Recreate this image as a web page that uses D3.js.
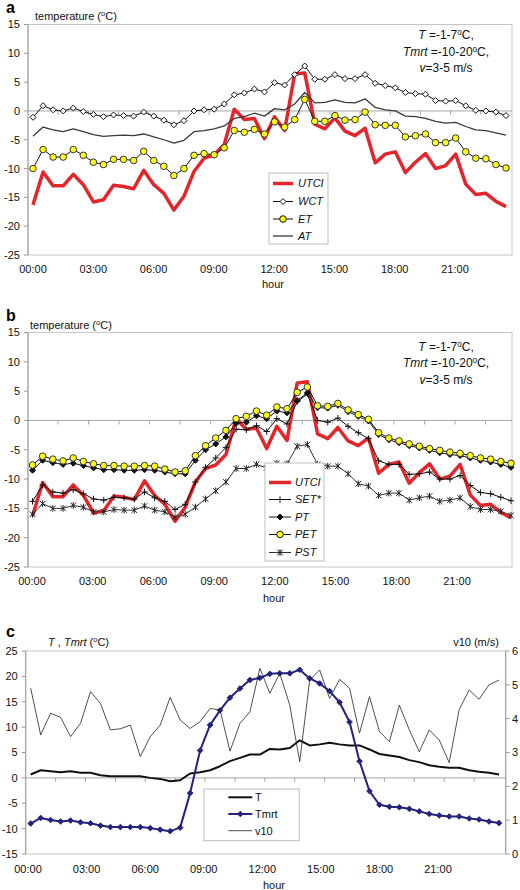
<!DOCTYPE html>
<html><head><meta charset="utf-8">
<script src="https://cdn.jsdelivr.net/npm/d3@7"></script>
<style>body{margin:0;background:#fff;} svg{display:block;font-family:"Liberation Sans",Arial,Helvetica,sans-serif;}</style>
</head><body><svg id="chart" width="520" height="890"></svg>
<script>
// ---------- DATA ----------
const times = ["00:00","00:30","01:00","01:30","02:00","02:30","03:00","03:30","04:00","04:30","05:00","05:30",
"06:00","06:30","07:00","07:30","08:00","08:30","09:00","09:30","10:00","10:30","11:00","11:30",
"12:00","12:30","13:00","13:30","14:00","14:30","15:00","15:30","16:00","16:30","17:00","17:30",
"18:00","18:30","19:00","19:30","20:00","20:30","21:00","21:30","22:00","22:30","23:00","23:30"];
const tickLabels = ["00:00","03:00","06:00","09:00","12:00","15:00","18:00","21:00"];
const tickHours = [0,3,6,9,12,15,18,21];
const yTicksAB = [15,10,5,0,-5,-10,-15,-20,-25];
const yTicksC = [25,20,15,10,5,0,-5,-10,-15];
const yTicksCR = [0,1,2,3,4,5,6];

const utci = [-16.3,-10.6,-13.0,-13.0,-11.0,-12.8,-15.8,-15.4,-12.9,-13.1,-13.5,-10.3,-12.8,-14.3,-17.2,-14.8,-10.5,-8.2,-7.6,-5.8,0.3,-1.5,-1.3,-4.8,-1.0,-3.4,6.4,6.6,-2.3,-3.1,-1.2,-3.5,-4.3,-3.0,-9.0,-7.5,-7.1,-10.7,-8.9,-7.4,-10.0,-9.5,-7.5,-12.7,-14.5,-14.3,-15.7,-16.6];
const wct = [-1.1,0.9,0.2,0.0,0.5,-0.1,-0.6,-1.0,-0.7,-0.8,-0.9,-0.2,-0.9,-1.6,-2.4,-1.7,0.0,0.2,0.3,1.2,2.8,3.1,3.8,3.3,4.9,4.5,6.3,7.8,5.5,5.5,6.3,5.6,5.6,6.3,4.8,4.4,4.0,3.2,3.0,2.9,1.8,1.7,1.8,0.9,0.1,0.0,-0.2,-0.8];
const et = [-10.0,-6.7,-8.0,-8.0,-6.7,-7.7,-8.9,-9.3,-8.4,-8.4,-8.6,-7.0,-8.6,-9.6,-11.2,-10.0,-7.7,-7.4,-7.6,-6.4,-3.4,-3.7,-3.2,-4.0,-1.9,-2.8,-1.5,2.0,-1.8,-1.8,-0.8,-1.6,-1.5,-0.2,-2.4,-2.5,-2.5,-4.5,-4.3,-4.0,-5.5,-5.5,-4.7,-7.1,-8.2,-8.3,-9.3,-9.9];
const at = [-4.4,-2.8,-3.3,-3.6,-3.1,-3.6,-4.1,-4.4,-4.3,-4.2,-4.3,-4.0,-4.5,-5.0,-5.6,-5.1,-3.6,-3.4,-3.1,-2.6,-1.3,-1.0,-0.4,-0.9,0.4,0.2,1.2,3.2,1.4,1.5,1.9,1.5,1.4,2.1,0.6,0.2,0.0,-0.9,-1.0,-1.3,-1.8,-2.1,-2.0,-2.7,-3.3,-3.4,-3.8,-4.2];

const setStar = [-13.8,-11.0,-12.2,-12.4,-11.8,-12.5,-13.4,-13.6,-13.1,-13.2,-13.4,-12.2,-13.2,-13.8,-15.2,-14.3,-10.5,-8.0,-6.4,-4.6,-1.5,-1.6,-0.9,-1.9,0.3,-0.6,3.2,4.5,0.0,-0.3,0.4,-1.0,-2.1,-3.1,-6.9,-7.5,-7.5,-9.2,-9.1,-8.8,-10.0,-10.0,-9.4,-11.1,-12.3,-12.5,-13.1,-13.7];
const pt = [-8.5,-6.8,-7.2,-7.5,-7.3,-7.7,-8.1,-8.4,-8.4,-8.5,-8.5,-8.4,-8.5,-8.8,-9.1,-9.1,-6.8,-5.0,-4.0,-2.8,-0.5,-0.3,0.8,0.3,1.6,1.3,3.4,4.7,2.2,2.1,2.6,1.5,0.7,-0.1,-2.4,-3.3,-3.8,-4.3,-4.7,-5.1,-5.5,-5.8,-6.0,-6.4,-6.8,-7.1,-7.5,-8.0];
const pet = [-7.6,-6.1,-6.6,-6.9,-6.4,-7.0,-7.4,-7.7,-7.7,-7.8,-7.8,-7.7,-7.8,-8.3,-8.8,-8.6,-6.0,-4.3,-3.0,-1.7,0.3,0.7,1.6,0.9,2.3,2.0,4.8,5.7,2.5,2.4,2.9,1.8,1.0,0.2,-2.1,-3.0,-3.5,-4.0,-4.4,-4.8,-5.1,-5.4,-5.6,-6.0,-6.4,-6.6,-7.0,-7.3];
const pst = [-16.0,-14.2,-15.0,-15.0,-14.5,-14.8,-15.6,-15.6,-15.2,-15.3,-15.3,-14.6,-15.3,-15.6,-16.5,-16.0,-14.8,-13.4,-12.0,-10.5,-8.2,-8.2,-7.5,-8.1,-7.3,-7.4,-4.4,-4.1,-7.5,-7.8,-7.8,-9.1,-10.8,-11.2,-12.8,-12.4,-12.4,-13.6,-13.2,-12.9,-13.8,-13.6,-13.2,-14.7,-15.2,-15.2,-15.5,-16.2];

const tAir = [0.66,1.5,1.3,1.1,1.3,1.0,1.0,0.5,0.3,0.3,0.3,0.3,0.0,-0.2,-0.66,-0.46,0.86,1.1,1.5,2.3,3.3,3.95,4.6,4.6,5.7,5.6,5.9,7.4,6.4,6.6,6.9,6.6,6.4,6.4,5.6,4.7,4.4,4.1,3.5,3.1,2.5,2.2,2.0,2.0,1.5,1.2,1.0,0.66];
const tmrt = [-9.0,-7.9,-8.3,-8.6,-8.4,-8.75,-8.95,-9.4,-9.7,-9.7,-9.7,-9.7,-9.9,-10.2,-10.5,-9.8,-3.0,5.4,10.4,13.3,15.8,17.6,19.3,19.7,20.5,20.6,20.6,21.3,19.6,18.6,17.1,14.9,11.0,3.3,-2.6,-5.3,-5.7,-5.8,-6.1,-6.6,-7.1,-7.4,-7.6,-7.6,-8.0,-8.2,-8.6,-8.9];
const v10 = [4.9,3.52,4.16,4.04,3.47,3.86,4.8,4.45,3.67,3.7,3.81,2.88,3.47,3.81,4.63,3.96,3.71,3.91,4.3,4.26,3.04,3.86,4.2,5.49,4.75,5.34,4.4,2.73,5.14,5.44,4.6,5.16,4.9,3.57,4.65,3.62,3.32,4.4,3.67,3.02,3.67,3.37,2.7,4.26,4.85,4.57,5.0,5.14];

// ---------- HELPERS ----------
const svg = d3.select("#chart");
const RED = "#e3262b", YEL = "#ffff1a", NAVY = "#23237e";

function richText(g, x, y, parts, size, anchor) {
  const t = g.append("text").attr("x", x).attr("y", y).attr("font-size", size)
    .attr("text-anchor", anchor || "start").attr("fill", "#111");
  parts.forEach(p => {
    const s = t.append("tspan").text(p.t);
    if (p.i) s.attr("font-style", "italic");
    if (p.sup) s.attr("font-size", size * 0.68).attr("baseline-shift", "super");
  });
  return t;
}
const diamond = r => `M0,${-r}L${r},0L0,${r}L${-r},0Z`;
const plus = r => `M${-r},0H${r}M0,${-r}V${r}`;
const aster = r => `M${-r},${-r}L${r},${r}M${-r},${r}L${r},${-r}M0,${-r - 0.6}V${r + 0.6}`;

function drawPanel(cfg) {
  const g = svg.append("g");
  const x = d3.scalePoint().domain(times).range(cfg.xr);
  const y = d3.scaleLinear().domain(cfg.yDomain).range([cfg.bottom, cfg.top]);
  const lx = d3.scaleLinear().domain([0, 21]).range(cfg.lbl);
  g.append("rect").attr("x", cfg.left).attr("y", cfg.top).attr("width", cfg.right - cfg.left)
    .attr("height", cfg.bottom - cfg.top).attr("fill", "#fff").attr("stroke", "#c6c6c6");
  g.append("line").attr("x1", cfg.left).attr("x2", cfg.left).attr("y1", cfg.top).attr("y2", cfg.bottom)
    .attr("stroke", "#9a9a9a");
  cfg.yTicks.forEach(v => {
    g.append("line").attr("x1", cfg.left - 4).attr("x2", cfg.left).attr("y1", y(v)).attr("y2", y(v)).attr("stroke", "#9a9a9a");
    g.append("text").attr("x", cfg.left - 8).attr("y", y(v)).attr("dy", "0.36em").attr("text-anchor", "end")
      .attr("font-size", 11).attr("fill", "#111").text(v);
  });
  g.append("line").attr("x1", cfg.left).attr("x2", cfg.right).attr("y1", y(0)).attr("y2", y(0)).attr("stroke", "#a6a6a6");
  const step = x.step();
  for (let k = 3; k < times.length; k += 3) {
    const xb = x(times[k]) - step / 2;
    g.append("line").attr("x1", xb).attr("x2", xb).attr("y1", y(0)).attr("y2", y(0) + 4).attr("stroke", "#a6a6a6");
  }
  tickLabels.forEach((t, k) => {
    g.append("text").attr("x", lx(tickHours[k])).attr("y", cfg.labelY).attr("text-anchor", "middle")
      .attr("font-size", 11).attr("fill", "#111").text(t);
  });
  g.append("text").attr("x", cfg.hourX).attr("y", cfg.hourY).attr("text-anchor", "middle")
    .attr("font-size", 11).attr("fill", "#111").text("hour");
  g.append("text").attr("x", 6).attr("y", cfg.letterY).attr("font-size", 16).attr("font-weight", "bold").text(cfg.letter);
  return { g, x, y };
}

function series(p, data, yS, opt) {
  const line = d3.line().x((d, i) => p.x(times[i])).y(d => yS(d));
  p.g.append("path").attr("d", line(data)).attr("fill", "none").attr("stroke", opt.color)
    .attr("stroke-width", opt.width).attr("stroke-linejoin", "round");
  if (opt.marker) {
    p.g.selectAll(null).data(data).enter().append("path")
      .attr("transform", (d, i) => `translate(${p.x(times[i])},${yS(d)})`)
      .attr("d", opt.marker).attr("fill", opt.fill || "none").attr("stroke", opt.mstroke || "#111")
      .attr("stroke-width", opt.mwidth || 1);
  }
}

function legend(g, box, items, italic) {
  g.append("rect").attr("x", box[0]).attr("y", box[1]).attr("width", box[2] - box[0]).attr("height", box[3] - box[1])
    .attr("fill", "#fff").attr("stroke", "#bdbdbd");
  items.forEach(it => {
    g.append("line").attr("x1", box[4]).attr("x2", box[5]).attr("y1", it.y).attr("y2", it.y)
      .attr("stroke", it.color).attr("stroke-width", it.width);
    if (it.marker) g.append("path").attr("transform", `translate(${(box[4] + box[5]) / 2},${it.y})`)
      .attr("d", it.marker).attr("fill", it.fill || "none").attr("stroke", it.mstroke || "#111");
    g.append("text").attr("x", box[6]).attr("y", it.y).attr("dy", "0.36em").attr("font-size", 11)
      .attr("font-style", italic ? "italic" : "normal").attr("fill", "#111").text(it.name);
  });
}

function conditions(g, y0) {
  richText(g, 446, y0, [{t: "T", i: true}, {t: " =-1-7"}, {t: "o", sup: true}, {t: "C,"}], 12, "middle");
  richText(g, 446, y0 + 16.5, [{t: "Tmrt", i: true}, {t: " =-10-20"}, {t: "o", sup: true}, {t: "C,"}], 12, "middle");
  richText(g, 446, y0 + 33, [{t: "v", i: true}, {t: "=3-5  m/s"}], 12, "middle");
}

// ---------- PANEL A ----------
const A = drawPanel({letter: "a", letterY: 13, left: 28, right: 512, top: 24.5, bottom: 255, xr: [33, 506], lbl: [33, 455],
  yDomain: [-25, 15], yTicks: yTicksAB, labelY: 272.5, hourX: 273, hourY: 288});
richText(A.g, 35, 19.5, [{t: "temperature ("}, {t: "o", sup: true}, {t: "C)"}], 11);
conditions(A.g, 39);
series(A, utci, A.y, {color: RED, width: 3.5});
series(A, wct, A.y, {color: "#111", width: 1, marker: diamond(3), fill: "#fff"});
series(A, et, A.y, {color: "#111", width: 1, marker: d3.symbol(d3.symbolCircle, 34)(), fill: YEL, mstroke: "#333"});
series(A, at, A.y, {color: "#3a3a3a", width: 1.3});
legend(A.g, [269, 173, 328, 244, 273, 293, 298], [
  {name: "UTCI", y: 183.5, color: RED, width: 3.5},
  {name: "WCT", y: 201.5, color: "#111", width: 1, marker: diamond(3), fill: "#fff"},
  {name: "ET", y: 219, color: "#111", width: 1, marker: d3.symbol(d3.symbolCircle, 34)(), fill: YEL},
  {name: "AT", y: 236, color: "#3a3a3a", width: 1.3}
], true);

// ---------- PANEL B ----------
const B = drawPanel({letter: "b", letterY: 321, left: 28, right: 512, top: 332.5, bottom: 567, xr: [32.5, 511], lbl: [32, 457],
  yDomain: [-25, 15], yTicks: yTicksAB, labelY: 584.5, hourX: 274, hourY: 601.5});
richText(B.g, 30, 329, [{t: "temperature ("}, {t: "o", sup: true}, {t: "C)"}], 11);
conditions(B.g, 350.5);
series(B, utci, B.y, {color: RED, width: 3.5});
series(B, setStar, B.y, {color: "#111", width: 1, marker: plus(3.2)});
series(B, pt, B.y, {color: "#111", width: 1, marker: diamond(3), fill: "#111"});
series(B, pet, B.y, {color: "#111", width: 1, marker: d3.symbol(d3.symbolCircle, 34)(), fill: YEL, mstroke: "#333"});
series(B, pst, B.y, {color: "#333", width: 1, marker: aster(2.8), mstroke: "#222"});
legend(B.g, [265, 463, 324, 561, 269, 291, 295], [
  {name: "UTCI", y: 482.5, color: RED, width: 3.5},
  {name: "SET*", y: 499.5, color: "#111", width: 1, marker: plus(3.2)},
  {name: "PT", y: 517, color: "#111", width: 1, marker: diamond(3), fill: "#111"},
  {name: "PET", y: 534.5, color: "#111", width: 1, marker: d3.symbol(d3.symbolCircle, 34)(), fill: YEL},
  {name: "PST", y: 552.5, color: "#333", width: 1, marker: aster(2.8)}
], true);

// ---------- PANEL C ----------
const C = drawPanel({letter: "c", letterY: 637, left: 25.7, right: 505.7, top: 651, bottom: 854, xr: [30.7, 499], lbl: [28, 438],
  yDomain: [-15, 25], yTicks: yTicksC, labelY: 872.5, hourX: 274, hourY: 889});
const yR = d3.scaleLinear().domain([0, 6]).range([854, 651]);
C.g.append("line").attr("x1", 505.7).attr("x2", 505.7).attr("y1", 651).attr("y2", 854).attr("stroke", "#9a9a9a");
yTicksCR.forEach(v => {
  C.g.append("line").attr("x1", 505.7).attr("x2", 509.7).attr("y1", yR(v)).attr("y2", yR(v)).attr("stroke", "#9a9a9a");
  C.g.append("text").attr("x", 512).attr("y", yR(v)).attr("dy", "0.36em").attr("font-size", 11).attr("fill", "#111").text(v);
});
richText(C.g, 48, 645.5, [{t: "T", i: true}, {t: " , "}, {t: "Tmrt", i: true}, {t: " ("}, {t: "o", sup: true}, {t: "C)"}], 11);
C.g.append("text").attr("x", 499).attr("y", 645.5).attr("text-anchor", "end").attr("font-size", 11).attr("fill", "#111").text("v10 (m/s)");
series(C, tAir, C.y, {color: "#111", width: 2});
series(C, tmrt, C.y, {color: NAVY, width: 2, marker: diamond(2.8), fill: NAVY, mstroke: NAVY});
series(C, v10, yR, {color: "#222", width: 0.8});
legend(C.g, [204, 789, 299.3, 840.7, 228.3, 252.3, 255], [
  {name: "T", y: 797.3, color: "#111", width: 2},
  {name: "Tmrt", y: 814, color: NAVY, width: 2, marker: diamond(2.8), fill: NAVY, mstroke: NAVY},
  {name: "v10", y: 830.7, color: "#222", width: 0.8}
], false);
</script></body></html>
